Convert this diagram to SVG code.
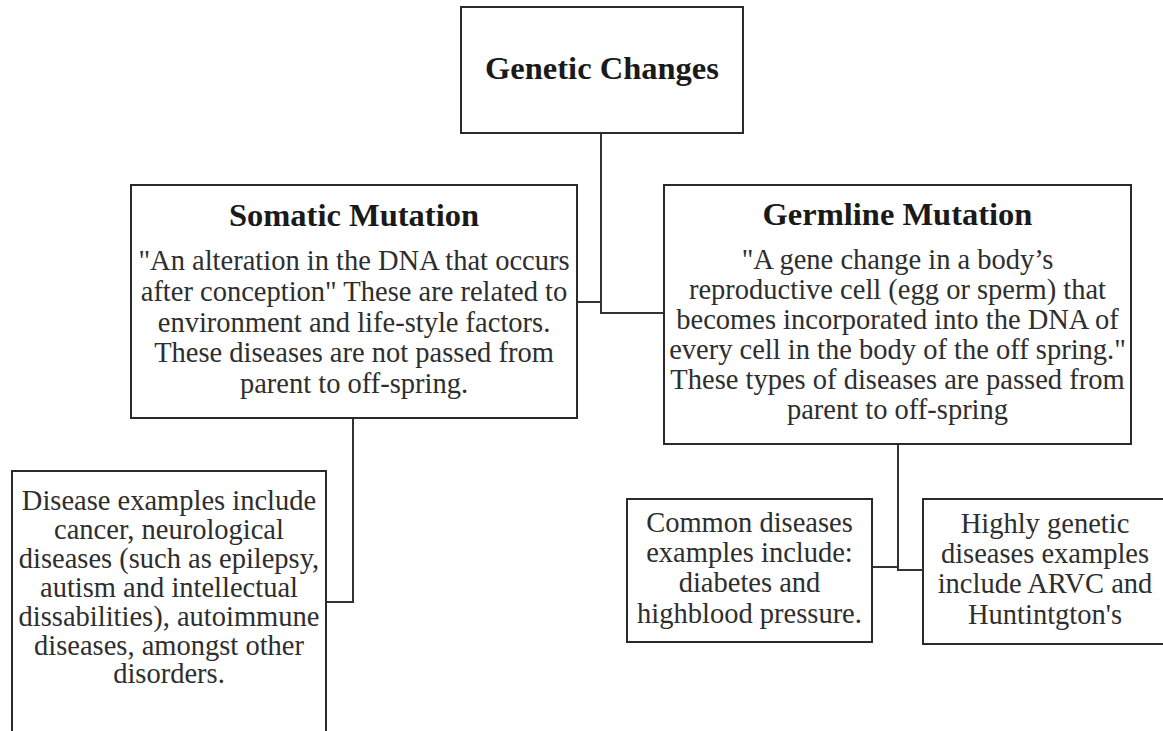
<svg xmlns="http://www.w3.org/2000/svg" width="1163" height="731" viewBox="0 0 1163 731">
  <style>
    .box { fill: #ffffff; stroke: #2a2a2a; stroke-width: 2; }
    .conn { fill: none; stroke: #333333; stroke-width: 2; }
    .title { font-family: "Liberation Serif", "Times New Roman", serif; font-weight: bold; font-size: 32.5px; fill: #1a1a1a; text-anchor: middle; }
    .body { font-family: "Liberation Serif", "Times New Roman", serif; font-size: 28.5px; fill: #2e2e2e; text-anchor: middle; }
  </style>
  <rect x="0" y="0" width="1163" height="731" fill="#ffffff"/>

  <g id="connectors">
    <path class="conn" d="M601,133 V302 H577"/>
    <path class="conn" d="M601,133 V313 H664"/>
    <path class="conn" d="M353,418 V602 H326"/>
    <path class="conn" d="M872,567 H898 V444"/>
    <path class="conn" d="M898,444 V570 H923"/>
  </g>

  <g id="genetic-changes">
    <rect class="box" x="461" y="7" width="282" height="126"/>
    <text class="title" x="602" y="79">Genetic Changes</text>
  </g>

  <g id="somatic-mutation">
    <rect class="box" x="131" y="185" width="446" height="233"/>
    <text class="title" x="354" y="226">Somatic Mutation</text>
    <text class="body" x="354" y="270">"An alteration in the DNA that occurs</text>
    <text class="body" x="354" y="300.8">after conception" These are related to</text>
    <text class="body" x="354" y="331.5">environment and life-style factors.</text>
    <text class="body" x="354" y="362.3">These diseases are not passed from</text>
    <text class="body" x="354" y="393">parent to off-spring.</text>
  </g>

  <g id="germline-mutation">
    <rect class="box" x="664" y="185" width="467" height="259"/>
    <text class="title" x="897.5" y="225">Germline Mutation</text>
    <text class="body" x="897.5" y="268.5">"A gene change in a body’s</text>
    <text class="body" x="897.5" y="298.5">reproductive cell (egg or sperm) that</text>
    <text class="body" x="897.5" y="328.5">becomes incorporated into the DNA of</text>
    <text class="body" x="897.5" y="358.5">every cell in the body of the off spring."</text>
    <text class="body" x="897.5" y="388.5">These types of diseases are passed from</text>
    <text class="body" x="897.5" y="418.5">parent to off-spring</text>
  </g>

  <g id="somatic-examples">
    <rect class="box" x="12" y="471" width="314" height="280"/>
    <text class="body" x="169" y="510">Disease examples include</text>
    <text class="body" x="169" y="539">cancer, neurological</text>
    <text class="body" x="169" y="568">diseases (such as epilepsy,</text>
    <text class="body" x="169" y="597">autism and intellectual</text>
    <text class="body" x="169" y="626">dissabilities), autoimmune</text>
    <text class="body" x="169" y="655">diseases, amongst other</text>
    <text class="body" x="169" y="683">disorders.</text>
  </g>

  <g id="common-diseases">
    <rect class="box" x="627" y="499" width="245" height="143"/>
    <text class="body" x="749.5" y="532">Common diseases</text>
    <text class="body" x="749.5" y="562">examples include:</text>
    <text class="body" x="749.5" y="592">diabetes and</text>
    <text class="body" x="749.5" y="622.5">highblood pressure.</text>
  </g>

  <g id="highly-genetic">
    <rect class="box" x="923" y="499" width="245" height="145"/>
    <text class="body" x="1045" y="533">Highly genetic</text>
    <text class="body" x="1045" y="563">diseases examples</text>
    <text class="body" x="1045" y="593">include ARVC and</text>
    <text class="body" x="1045" y="624">Huntintgton's</text>
  </g>
</svg>
